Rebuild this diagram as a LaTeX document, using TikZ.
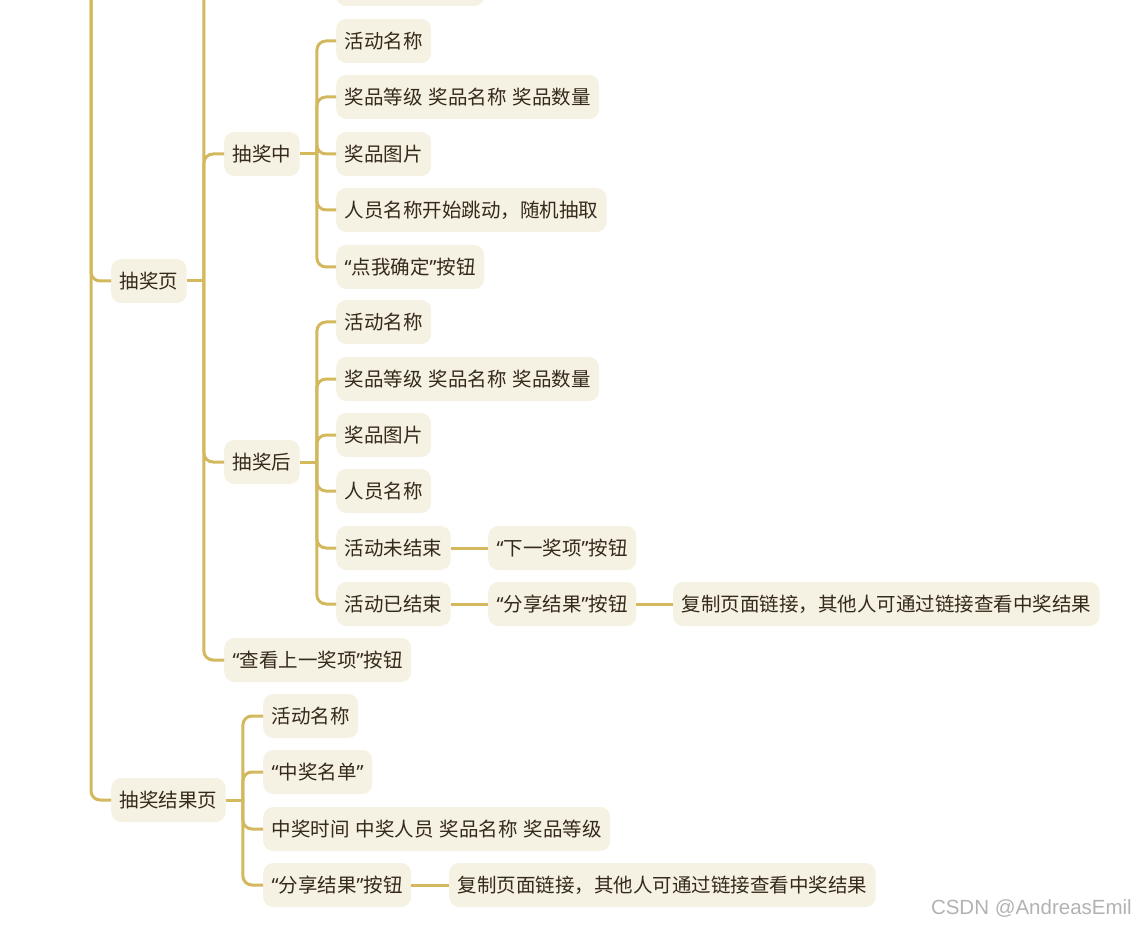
\documentclass[tikz,border=0pt]{standalone}
\usepackage{fontspec}
\setmainfont{Noto Sans CJK SC}
\newfontfamily\qf{Noto Sans}
\newfontfamily\wmfont{Liberation Sans}
\definecolor{lineC}{HTML}{D3B85E}
\definecolor{boxC}{HTML}{F5F1E3}
\definecolor{txtC}{HTML}{35291A}
\newcommand{\myoq}{{\qf “}}
\newcommand{\mycq}{{\qf ”}}
\newcommand{\boxfont}{\fontsize{19.5}{23}\selectfont\spaceskip=6pt\relax}
\begin{document}
\begin{tikzpicture}[x=1pt,y=-1pt,
  box/.style={fill=boxC, rounded corners=10pt, minimum height=44pt, inner xsep=8.5pt,
    anchor=west, text=txtC, font=\boxfont},
  conn/.style={draw=lineC, line width=3pt, rounded corners=9pt}]
\useasboundingbox (0,0) rectangle (1136,928);
\clip (0,0) rectangle (1136,928);

% nodes
\node[box, minimum width=148pt] (top) at (336,-16) {};
\node[box] (p1) at (111,281) {抽奖页};
\node[box] (p2) at (111,800) {抽奖结果页};

\node[box] (a1) at (224,154) {抽奖中};
\node[box] (a2) at (224,462) {抽奖后};
\node[box] (a3) at (224,660) {\myoq 查看上一奖项\mycq 按钮};

\node[box] (b1) at (336,41) {活动名称};
\node[box] (b2) at (336,97) {奖品等级 奖品名称 奖品数量};
\node[box] (b3) at (336,154) {奖品图片};
\node[box] (b4) at (336,210) {人员名称开始跳动，随机抽取};
\node[box] (b5) at (336,267) {\myoq 点我确定\mycq 按钮};

\node[box] (c1) at (336,322) {活动名称};
\node[box] (c2) at (336,379) {奖品等级 奖品名称 奖品数量};
\node[box] (c3) at (336,435) {奖品图片};
\node[box] (c4) at (336,491) {人员名称};
\node[box] (c5) at (336,548) {活动未结束};
\node[box] (c6) at (336,604) {活动已结束};
\node[box] (d1) at (488,548) {\myoq 下一奖项\mycq 按钮};
\node[box] (d2) at (488,604) {\myoq 分享结果\mycq 按钮};
\node[box] (e1) at (673,604) {复制页面链接，其他人可通过链接查看中奖结果};

\node[box] (f1) at (263,716) {活动名称};
\node[box] (f2) at (263,772) {\myoq 中奖名单\mycq};
\node[box] (f3) at (263,829) {中奖时间 中奖人员 奖品名称 奖品等级};
\node[box] (f4) at (263,885) {\myoq 分享结果\mycq 按钮};
\node[box] (g1) at (449,885) {复制页面链接，其他人可通过链接查看中奖结果};

\node[anchor=east, inner sep=0pt, text=black!30, font=\wmfont\fontsize{20.5}{22}\selectfont] (wm) at (1132,908) {CSDN @AndreasEmil};

% connectors
\coordinate (rootj) at (91,-30);
\draw[conn] (rootj) |- (p1.west);
\draw[conn] (rootj) |- (p2.west);

\coordinate (j1) at ([xshift=17pt]p1.east);
\coordinate (j1top) at (204,-30);
\draw[conn] (p1.east) -- (j1);
\draw[conn] (j1top) -- (j1);
\foreach \n in {a1,a2,a3} \draw[conn] (j1) |- (\n.west);

\coordinate (j2) at ([xshift=17pt]a1.east);
\draw[conn] (a1.east) -- (j2);
\foreach \n in {b1,b2,b3,b4,b5} \draw[conn] (j2) |- (\n.west);

\coordinate (j3) at ([xshift=17pt]a2.east);
\draw[conn] (a2.east) -- (j3);
\foreach \n in {c1,c2,c3,c4,c5,c6} \draw[conn] (j3) |- (\n.west);

\draw[conn] (c5.east) -- (d1.west);
\draw[conn] (c6.east) -- (d2.west);
\draw[conn] (d2.east) -- (e1.west);

\coordinate (j4) at ([xshift=17pt]p2.east);
\draw[conn] (p2.east) -- (j4);
\foreach \n in {f1,f2,f3,f4} \draw[conn] (j4) |- (\n.west);
\draw[conn] (f4.east) -- (g1.west);
\end{tikzpicture}
\end{document}
